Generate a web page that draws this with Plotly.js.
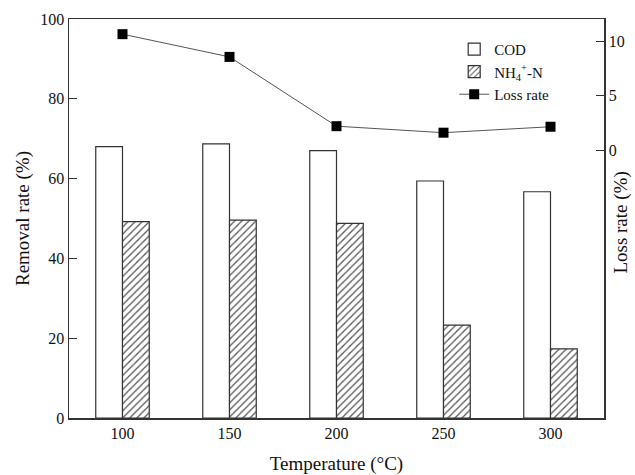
<!DOCTYPE html>
<html>
<head>
<meta charset="utf-8">
<script src="https://cdn.plot.ly/plotly-3.0.1.min.js"></script>
<style>html,body{margin:0;padding:0;background:#fff;}#chart{width:635px;height:475px;}</style>
</head>
<body>
<div id="chart"></div>
<script>
const temperatures = ['100', '150', '200', '250', '300'];
const codRemoval = [68.0, 68.7, 67.0, 59.4, 56.7];
const nh4Removal = [49.2, 49.6, 48.8, 23.3, 17.3];
const lossRate = [10.7, 8.6, 2.2, 1.6, 2.15];
const leftTicks = [0, 20, 40, 60, 80, 100];
const rightTicks = [0, 5, 10];

const fontFamily = '"Liberation Serif", "Times New Roman", serif';
const traces = [
  {
    type: 'bar', name: 'COD', x: temperatures, y: codRemoval,
    marker: {color: '#ffffff', line: {color: '#333333', width: 1.2}},
    yaxis: 'y'
  },
  {
    type: 'bar', name: 'NH<sub>4</sub><sup>+</sup>-N', x: temperatures, y: nh4Removal,
    marker: {color: '#ffffff', line: {color: '#333333', width: 1.2},
      pattern: {shape: '/', fgcolor: '#555555', bgcolor: '#ffffff', size: 5, solidity: 0.25}},
    yaxis: 'y'
  },
  {
    type: 'scatter', mode: 'lines+markers', name: 'Loss rate', x: temperatures, y: lossRate,
    line: {color: '#555555', width: 1},
    marker: {symbol: 'square', size: 10, color: '#000000'},
    yaxis: 'y2'
  }
];

const layout = {
  width: 635, height: 475,
  margin: {l: 69, r: 31, t: 19, b: 57},
  paper_bgcolor: '#ffffff', plot_bgcolor: '#ffffff',
  font: {family: fontFamily, color: '#111111', size: 16},
  barmode: 'group', bargap: 0.5, bargroupgap: 0,
  showlegend: true,
  legend: {x: 0.72, y: 0.965, xanchor: 'left', yanchor: 'top', bgcolor: 'rgba(0,0,0,0)',
    font: {family: fontFamily, size: 15, color: '#111'}, tracegroupgap: 0, itemwidth: 30},
  xaxis: {
    type: 'category', range: [-0.5, 4.5], showline: true, linecolor: '#333', linewidth: 1.5,
    mirror: true, ticks: '', showgrid: false, zeroline: false,
    tickfont: {size: 16},
    title: {text: 'Temperature (°C)', font: {size: 19}, standoff: 16}
  },
  yaxis: {
    range: [0, 100], tickvals: leftTicks, showline: true, linecolor: '#333', linewidth: 1.5,
    ticks: 'inside', ticklen: 8, tickcolor: '#333', showgrid: false, zeroline: false,
    tickfont: {size: 16},
    title: {text: 'Removal rate (%)', font: {size: 19}, standoff: 5}
  },
  yaxis2: {
    overlaying: 'y', side: 'right', range: [-24.75, 12.1], tickvals: rightTicks,
    showline: true, linecolor: '#333', linewidth: 1.5,
    ticks: 'inside', ticklen: 8, tickcolor: '#333', showgrid: false, zeroline: false,
    tickfont: {size: 16}
  },
  annotations: [{
    text: 'Loss rate (%)', xref: 'paper', yref: 'paper', x: 1.032, y: 0.49,
    xanchor: 'center', yanchor: 'middle', textangle: -90, showarrow: false,
    font: {family: fontFamily, size: 19, color: '#111'}
  }]
};

Plotly.newPlot('chart', traces, layout, {displayModeBar: false, staticPlot: true});
</script>
</body>
</html>
